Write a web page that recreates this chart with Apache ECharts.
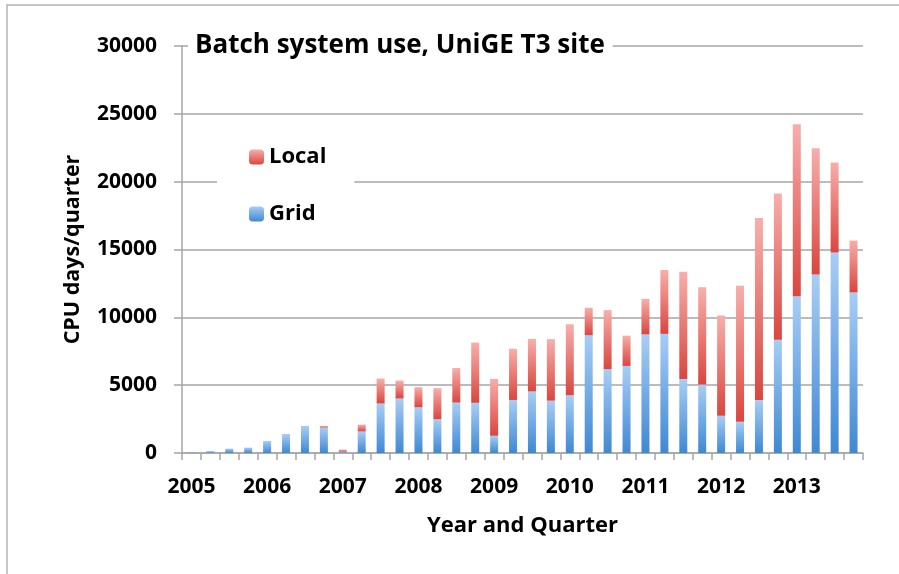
<!DOCTYPE html>
<html>
<head>
<meta charset="utf-8">
<script src="https://cdn.jsdelivr.net/npm/echarts@6/dist/echarts.min.js"></script>
<style>
  html, body { margin: 0; padding: 0; background: #fff; }
  #main { width: 899px; height: 574px; }
</style>
</head>
<body>
<div id="main"></div>
<script>
// quarters 2005 Q1 .. 2013 Q4
var quarters = [];
var years = ['2005', '2006', '2007', '2008', '2009', '2010', '2011', '2012', '2013'];
years.forEach(function (y) {
    ['Q1', 'Q2', 'Q3', 'Q4'].forEach(function (q) { quarters.push(y + ' ' + q); });
});

// CPU days per quarter
var gridUse = [70, 140, 320, 400, 890, 1400, 1990, 1880, 100, 1590,
    3650, 4020, 3370, 2490, 3720, 3700, 1270, 3910, 4540, 3860,
    4260, 8690, 6180, 6420, 8740, 8780, 5450, 5040, 2750, 2300,
    3900, 8340, 11550, 13150, 14780, 11840];
var localUse = [0, 0, 0, 0, 0, 0, 0, 110, 150, 500,
    1840, 1320, 1480, 2290, 2540, 4440, 4190, 3770, 3870, 4530,
    5230, 2020, 4350, 2230, 2620, 4710, 7910, 7180, 7380, 10030,
    13420, 10790, 12690, 9310, 6640, 3820];

var yTicks = { min: 0, max: 30000, interval: 5000 };

var myChart = echarts.init(document.getElementById('main'));

var font = 'Open Sans';
var grad = function (top, bottom) {
    return new echarts.graphic.LinearGradient(0, 0, 0, 1, [
        { offset: 0, color: top },
        { offset: 1, color: bottom }
    ]);
};

var option = {
    animation: false,
    backgroundColor: '#fff',
    graphic: [{
        type: 'rect',
        shape: { x: 7, y: 5, width: 900, height: 580 },
        style: { fill: 'none', stroke: '#b4b4b4', lineWidth: 1.5 },
        silent: true
    }],
    title: {
        text: 'Batch system use, UniGE T3 site',
        left: 188,
        top: 29,
        padding: [0, 8, 0, 7],
        backgroundColor: '#fff',
        textStyle: { fontFamily: font, fontWeight: 'bold', fontSize: 26, color: '#000', lineHeight: 34 }
    },
    legend: {
        data: ['Local', 'Grid'],
        orient: 'vertical',
        left: 217,
        top: 136,
        padding: [10, 28, 10, 32],
        itemWidth: 15,
        itemHeight: 15,
        itemGap: 35,
        backgroundColor: '#fff',
        textStyle: { fontFamily: font, fontWeight: 'bold', fontSize: 22, color: '#000' }
    },
    grid: {
        left: 182,
        right: 36,
        top: 46,
        bottom: 121,
        containLabel: false
    },
    xAxis: {
        type: 'category',
        data: quarters,
        name: 'Year and Quarter',
        nameLocation: 'middle',
        nameGap: 62,
        nameTextStyle: { fontFamily: font, fontWeight: 'bold', fontSize: 22, color: '#000' },
        axisLine: { lineStyle: { color: '#a6a6a6', width: 1.5 } },
        axisTick: { show: true, interval: 0, length: 7, lineStyle: { color: '#a6a6a6', width: 1.5 } },
        axisLabel: {
            interval: 3,
            margin: 24,
            fontFamily: font, fontWeight: 'bold', fontSize: 21, color: '#000',
            formatter: function (v) { return v.slice(0, 4); }
        }
    },
    yAxis: {
        type: 'value',
        min: yTicks.min,
        max: yTicks.max,
        interval: yTicks.interval,
        name: 'CPU days/quarter',
        nameLocation: 'middle',
        nameGap: 98,
        nameTextStyle: { fontFamily: font, fontWeight: 'bold', fontSize: 21.5, color: '#000' },
        axisLine: { show: true, lineStyle: { color: '#a6a6a6', width: 1.5 } },
        axisTick: { show: true, length: 8, lineStyle: { color: '#a6a6a6', width: 1.5 } },
        axisLabel: {
            margin: 25, fontFamily: font, fontWeight: 'bold', fontSize: 21, color: '#000',
            formatter: function (v) { return String(v); }
        },
        splitLine: { lineStyle: { color: '#a6a6a6', width: 1.5 } }
    },
    series: [
        {
            name: 'Grid',
            type: 'bar',
            stack: 'use',
            barWidth: 8,
            itemStyle: { color: grad('#a8cdf6', '#3f88d3') },
            data: gridUse
        },
        {
            name: 'Local',
            type: 'bar',
            stack: 'use',
            barWidth: 8,
            itemStyle: { color: grad('#f8aeab', '#d9463f') },
            data: localUse
        }
    ]
};
myChart.setOption(option);
</script>
</body>
</html>
